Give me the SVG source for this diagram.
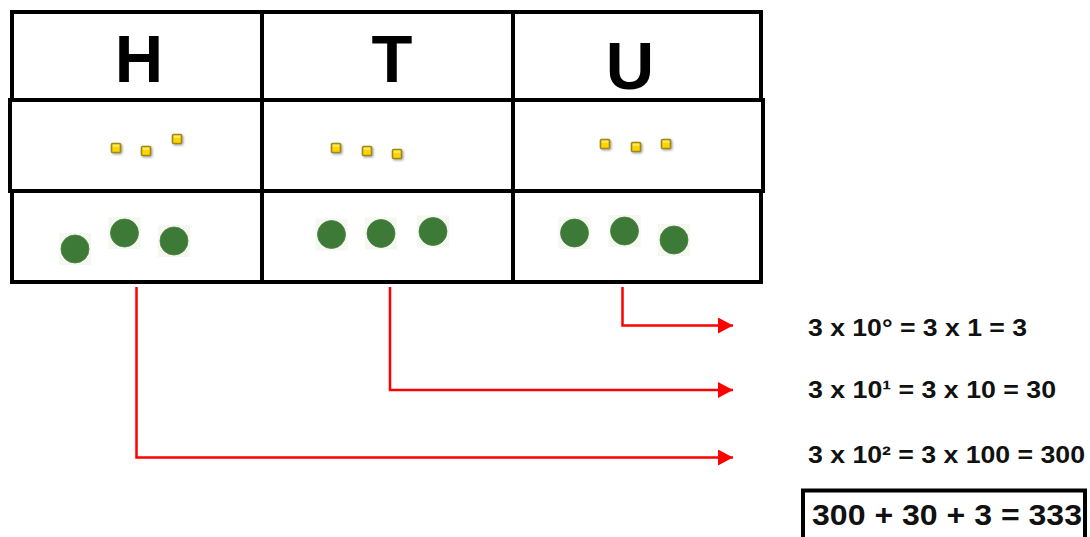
<svg xmlns="http://www.w3.org/2000/svg" width="1090" height="537" viewBox="0 0 1090 537">
  <style>
    .cell { fill: #ffffff; stroke: #000000; stroke-width: 4; }
    .head { font-family: "Liberation Sans", Arial, sans-serif; font-weight: bold; font-size: 67px; fill: #000000; text-anchor: middle; }
    .eq { font-family: "Liberation Sans", Arial, sans-serif; font-weight: bold; font-size: 24px; fill: #111111; }
    .sum { font-family: "Liberation Sans", Arial, sans-serif; font-weight: bold; font-size: 30px; fill: #111111; }
    .link { fill: none; stroke: #ff0000; stroke-width: 2.5; }
    .cube { fill: #ffd400; stroke: #9c8a12; stroke-width: 1.6; }
    .bead { fill: #3d7a37; stroke: #4f7f3f; stroke-width: 0.8; }
    .halo { fill: #f4f8f1; }
  </style>
  <defs>
    <marker id="arrowhead" markerWidth="15" markerHeight="16" refX="15" refY="8" orient="auto" markerUnits="userSpaceOnUse">
      <path d="M0,0 L15,8 L0,16 Z" fill="#ff0000"/>
    </marker>
    <filter id="shade" x="-50%" y="-50%" width="200%" height="200%">
      <feDropShadow dx="1.2" dy="1.2" stdDeviation="0.8" flood-color="#666" flood-opacity="0.6"/>
    </filter>
    <g id="unit-cube">
      <rect class="cube" x="-4.5" y="-4.5" width="9" height="9" rx="1" filter="url(#shade)"/>
      <rect x="-3.2" y="-3.3" width="6.4" height="2.2" fill="#ffe866"/>
    </g>
    <g id="counter">
      <rect class="halo" x="-16" y="-16" width="32" height="32"/>
      <circle class="bead" r="14"/>
    </g>
  </defs>

  <!-- place-value table -->
  <g id="row-headings">
    <rect class="cell" x="12" y="12" width="749" height="88"/>
    <line x1="262" y1="12" x2="262" y2="100" stroke="#000" stroke-width="4"/>
    <line x1="513" y1="12" x2="513" y2="100" stroke="#000" stroke-width="4"/>
  </g>
  <g id="row-cubes">
    <rect class="cell" x="10" y="100" width="753" height="91"/>
    <line x1="262" y1="100" x2="262" y2="191" stroke="#000" stroke-width="4"/>
    <line x1="513" y1="100" x2="513" y2="191" stroke="#000" stroke-width="4"/>
  </g>
  <g id="row-counters">
    <rect class="cell" x="12" y="191" width="749" height="91"/>
    <line x1="262" y1="191" x2="262" y2="282" stroke="#000" stroke-width="4"/>
    <line x1="513" y1="191" x2="513" y2="282" stroke="#000" stroke-width="4"/>
  </g>

  <g id="col-hundreds">
    <text class="head" x="139" y="82">H</text>
    <use href="#unit-cube" x="116" y="148"/>
    <use href="#unit-cube" x="146" y="151"/>
    <use href="#unit-cube" x="177" y="139"/>
    <use href="#counter" x="75" y="249"/>
    <use href="#counter" x="124.5" y="233"/>
    <use href="#counter" x="174" y="241"/>
  </g>
  <g id="col-tens">
    <text class="head" x="392" y="82">T</text>
    <use href="#unit-cube" x="336" y="148"/>
    <use href="#unit-cube" x="367" y="151"/>
    <use href="#unit-cube" x="397" y="154"/>
    <use href="#counter" x="331.5" y="234.5"/>
    <use href="#counter" x="381" y="233.5"/>
    <use href="#counter" x="433" y="231.5"/>
  </g>
  <g id="col-units">
    <text class="head" x="630" y="89">U</text>
    <use href="#unit-cube" x="605" y="144"/>
    <use href="#unit-cube" x="636" y="147"/>
    <use href="#unit-cube" x="666" y="144"/>
    <use href="#counter" x="574.5" y="233"/>
    <use href="#counter" x="624.5" y="231"/>
    <use href="#counter" x="674" y="240"/>
  </g>

  <!-- connectors from each column to its expansion -->
  <g id="connectors">
    <polyline class="link" points="622.5,287 622.5,325.5 733,325.5" marker-end="url(#arrowhead)"/>
    <polyline class="link" points="390,287 390,390 733,390" marker-end="url(#arrowhead)"/>
    <polyline class="link" points="136.5,287 136.5,457.5 733,457.5" marker-end="url(#arrowhead)"/>
  </g>

  <g id="expansions">
    <text class="eq" x="808" y="336" textLength="219" lengthAdjust="spacingAndGlyphs">3 x 10° = 3 x 1 = 3</text>
    <text class="eq" x="808" y="398" textLength="248" lengthAdjust="spacingAndGlyphs">3 x 10¹ = 3 x 10 = 30</text>
    <text class="eq" x="808" y="463" textLength="277" lengthAdjust="spacingAndGlyphs">3 x 10² = 3 x 100 = 300</text>
  </g>

  <g id="total">
    <rect x="803" y="490.5" width="282" height="60" fill="none" stroke="#000" stroke-width="4"/>
    <text class="sum" x="812" y="525" textLength="270" lengthAdjust="spacingAndGlyphs">300 + 30 + 3 = 333</text>
  </g>
</svg>
